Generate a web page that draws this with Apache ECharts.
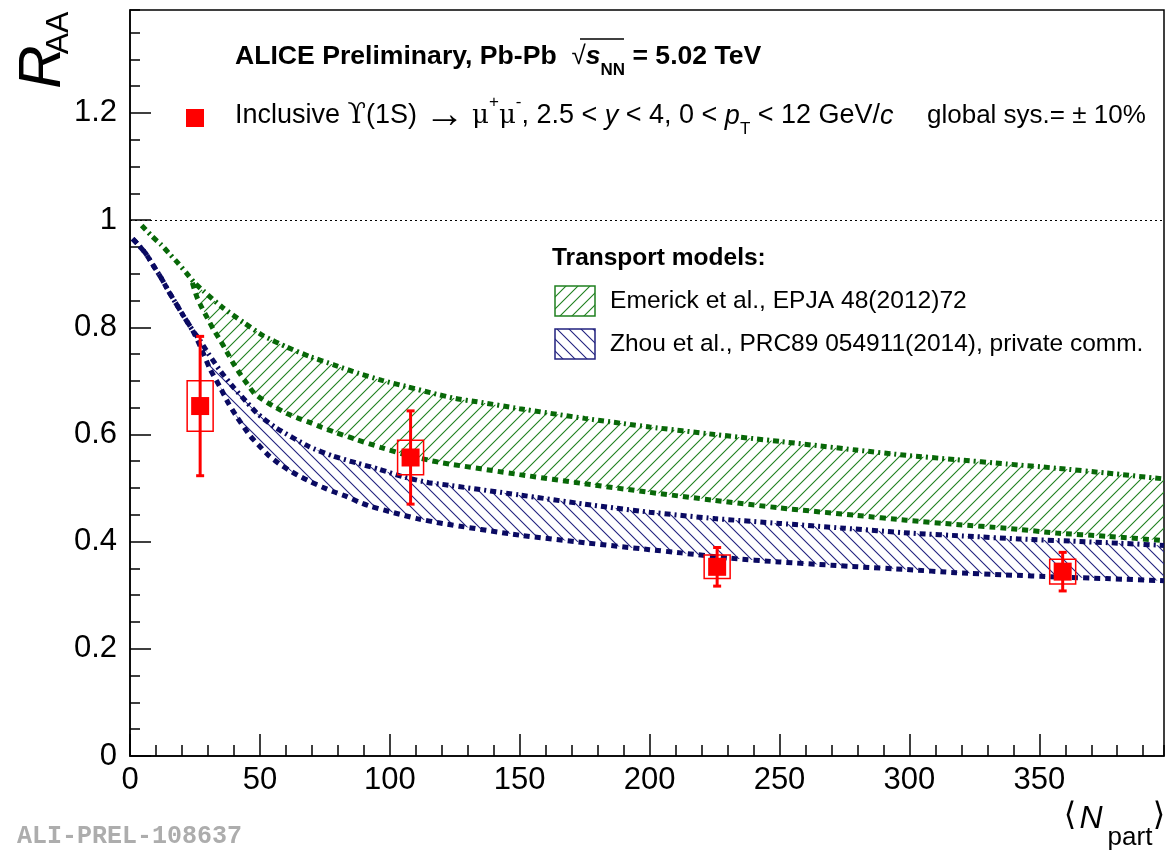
<!DOCTYPE html>
<html>
<head>
<meta charset="utf-8">
<script src="https://cdn.jsdelivr.net/npm/echarts@6/dist/echarts.min.js"></script>
<style>
  html, body { margin: 0; padding: 0; background: #fff; }
  #main { width: 1165px; height: 850px; }
</style>
</head>
<body>
<div id="main"></div>
<script>
// measured Upsilon(1S) R_AA vs <Npart>
var npart   = [27, 108, 226, 359];
var raa     = [0.653, 0.557, 0.353, 0.344];
var statErr = [0.130, 0.087, 0.036, 0.036];
var sysErr  = [0.047, 0.032, 0.022, 0.023];

// Emerick et al. band
var emerickUpN = [4.5, 8.4, 12, 15.4, 18.6, 21.6, 24.8, 28.2, 35.6, 43.7, 51.4, 60.4, 69.4, 78.4, 88, 97, 106.7, 115.6, 125.3, 133.6, 150, 175, 200, 225, 250, 279.5, 298.8, 318, 337.3, 356.6, 375.9, 398];
var emerickUpR = [0.99, 0.970, 0.954, 0.936, 0.919, 0.902, 0.883, 0.868, 0.837, 0.809, 0.784, 0.763, 0.745, 0.730, 0.714, 0.701, 0.689, 0.678, 0.667, 0.661, 0.648, 0.630, 0.614, 0.600, 0.587, 0.571, 0.561, 0.553, 0.545, 0.537, 0.528, 0.517];
var emerickLoN = [24, 25.7, 27.6, 29.8, 32.1, 34.7, 37.3, 39.6, 42.1, 45, 47.8, 52, 56.2, 60.4, 64.9, 69.4, 73.9, 78.4, 87.4, 96.4, 105.4, 115, 120.2, 150, 175, 200, 225, 250, 279.5, 298.8, 318, 337.3, 356.6, 375.9, 398];
var emerickLoR = [0.883, 0.857, 0.837, 0.817, 0.796, 0.776, 0.754, 0.734, 0.715, 0.695, 0.677, 0.662, 0.650, 0.639, 0.630, 0.622, 0.613, 0.605, 0.590, 0.576, 0.563, 0.552, 0.547, 0.525, 0.508, 0.492, 0.477, 0.463, 0.449, 0.440, 0.432, 0.425, 0.416, 0.410, 0.402];

// Zhou et al. band
var zhouUpN = [1, 3, 6, 9, 12, 15, 18, 21, 24, 27, 30, 35, 40, 45, 49, 56, 69, 78, 87, 96, 105, 115, 120, 150, 175, 200, 225, 250, 275, 300, 323, 342, 362, 381, 398];
var zhouUpR = [0.965, 0.955, 0.938, 0.915, 0.892, 0.866, 0.842, 0.818, 0.795, 0.775, 0.752, 0.717, 0.687, 0.660, 0.639, 0.613, 0.577, 0.560, 0.547, 0.535, 0.521, 0.510, 0.507, 0.487, 0.470, 0.455, 0.443, 0.434, 0.425, 0.416, 0.410, 0.405, 0.401, 0.397, 0.393];
var zhouLoN = [1, 3, 6, 9, 12, 15, 18, 21, 24, 27, 30.8, 34.7, 37.9, 41.1, 46.3, 50.1, 53.3, 57.2, 61, 64.9, 69.4, 73.9, 78.4, 83.5, 88, 92.5, 101.5, 110.5, 120.2, 150, 175, 200, 212, 231, 250, 270, 280, 299, 318, 337, 357, 376, 398];
var zhouLoR = [0.965, 0.955, 0.938, 0.915, 0.892, 0.866, 0.842, 0.818, 0.795, 0.765, 0.722, 0.688, 0.658, 0.633, 0.597, 0.577, 0.561, 0.546, 0.534, 0.523, 0.512, 0.502, 0.493, 0.484, 0.474, 0.466, 0.454, 0.443, 0.434, 0.412, 0.398, 0.385, 0.379, 0.369, 0.362, 0.356, 0.353, 0.348, 0.342, 0.338, 0.334, 0.331, 0.327];

var xTicks = [0, 50, 100, 150, 200, 250, 300, 350];
var yTicks = [0, 0.2, 0.4, 0.6, 0.8, 1, 1.2];
var unity = 1;

var RED = '#ff0000';
var GREEN_LINE = '#086808', GREEN_HATCH = '#1f801f';
var BLUE_LINE = '#0a0a62', BLUE_HATCH = '#22227f';
var FONT = "'Liberation Sans', Arial, Helvetica, sans-serif";
var SYMB = "'DejaVu Serif', serif";
var X_MAX = 398, Y_MAX = 1.392;
var BOX_HALF = 5;

function zip(a, b) { return a.map(function (v, i) { return [v, b[i]]; }); }

function hatch(color, forward) {
  var s = 12, c = document.createElement('canvas');
  c.width = s; c.height = s;
  var ctx = c.getContext('2d');
  ctx.strokeStyle = color;
  ctx.lineWidth = 1.1;
  ctx.beginPath();
  if (forward) {
    ctx.moveTo(-2, s + 2); ctx.lineTo(s + 2, -2);
    ctx.moveTo(-2, 2); ctx.lineTo(2, -2);
    ctx.moveTo(s - 2, s + 2); ctx.lineTo(s + 2, s - 2);
  } else {
    ctx.moveTo(-2, -2); ctx.lineTo(s + 2, s + 2);
    ctx.moveTo(s - 2, -2); ctx.lineTo(s + 2, 2);
    ctx.moveTo(-2, s - 2); ctx.lineTo(2, s + 2);
  }
  ctx.stroke();
  return { image: c, repeat: 'repeat' };
}

var greenFill = hatch(GREEN_HATCH, true);
var blueFill = hatch(BLUE_HATCH, false);

function band(upN, upR, loN, loR, fill) {
  var pts = [];
  upN.forEach(function (n, i) { if (n >= loN[0]) pts.push([n, upR[i]]); });
  for (var i = loN.length - 1; i >= 0; i--) pts.push([loN[i], loR[i]]);
  return {
    type: 'custom', silent: true, z: 1, clip: true,
    data: [[0, 0]],
    renderItem: function (params, api) {
      return {
        type: 'polygon',
        shape: { points: pts.map(function (p) { return api.coord(p); }) },
        style: { fill: fill, stroke: 'none' }
      };
    }
  };
}

function curve(n, r, color, dash) {
  return {
    type: 'line', data: zip(n, r), showSymbol: false, smooth: 0.2,
    silent: true, z: 2, clip: true,
    lineStyle: { color: color, width: 5, type: dash, cap: 'butt' }
  };
}

var points = npart.map(function (n, i) { return [n, raa[i], statErr[i], sysErr[i]]; });

var chart = echarts.init(document.getElementById('main'));

var tickStyle = { color: '#000', width: 1.5 };

var option = {
  animation: false,
  backgroundColor: '#fff',
  grid: { left: 130, right: 1, top: 10, bottom: 94, show: true, borderColor: '#000', borderWidth: 1.5, backgroundColor: 'transparent' },
  xAxis: [{
    type: 'value', min: 0, max: X_MAX, interval: 50, position: 'bottom',
    axisLine: { lineStyle: { color: '#000', width: 1.5 } },
    axisTick: { inside: true, length: 22, lineStyle: tickStyle },
    splitLine: { show: false },
    axisLabel: {
      color: '#000', fontFamily: FONT, fontSize: 31, margin: 9, showMaxLabel: false,
      formatter: function (v) { return xTicks.indexOf(v) >= 0 ? String(v) : ''; }
    }
  }, {
    type: 'value', min: 0, max: X_MAX, interval: 10, position: 'bottom',
    axisLine: { show: false }, axisLabel: { show: false }, splitLine: { show: false },
    axisTick: { inside: true, length: 11, lineStyle: tickStyle }
  }],
  yAxis: [{
    type: 'value', min: 0, max: Y_MAX, interval: 0.2, position: 'left',
    axisLine: { lineStyle: { color: '#000', width: 1.5 } },
    axisTick: { inside: true, length: 21, lineStyle: tickStyle },
    splitLine: { show: false },
    axisLabel: {
      color: '#000', fontFamily: FONT, fontSize: 31, margin: 13, showMaxLabel: false,
      formatter: function (v) {
        for (var i = 0; i < yTicks.length; i++) if (Math.abs(yTicks[i] - v) < 1e-6) return String(yTicks[i]);
        return '';
      }
    }
  }, {
    type: 'value', min: 0, max: Y_MAX, interval: 0.05, position: 'left',
    axisLine: { show: false }, axisLabel: { show: false }, splitLine: { show: false },
    axisTick: { inside: true, length: 10, lineStyle: tickStyle }
  }],
  series: [
    band(emerickUpN, emerickUpR, emerickLoN, emerickLoR, greenFill),
    band(zhouUpN, zhouUpR, zhouLoN, zhouLoR, blueFill),
    curve(emerickUpN, emerickUpR, GREEN_LINE, [6, 4, 2, 4]),
    curve(emerickLoN, emerickLoR, GREEN_LINE, [6, 5]),
    curve(zhouUpN, zhouUpR, BLUE_LINE, [6, 4, 2, 4]),
    curve(zhouLoN, zhouLoR, BLUE_LINE, [6, 5]),
    {
      type: 'custom', silent: true, z: 3, data: points,
      renderItem: function (params, api) {
        var x = api.value(0), y = api.value(1), st = api.value(2), sy = api.value(3);
        var top = api.coord([x, y + st]), bot = api.coord([x, y - st]);
        var bl = api.coord([x - BOX_HALF, y - sy]), tr = api.coord([x + BOX_HALF, y + sy]);
        var cap = 4;
        return {
          type: 'group',
          children: [
            { type: 'rect', shape: { x: bl[0], y: tr[1], width: tr[0] - bl[0], height: bl[1] - tr[1] },
              style: { fill: 'none', stroke: RED, lineWidth: 1.5 } },
            { type: 'line', shape: { x1: top[0], y1: top[1], x2: bot[0], y2: bot[1] },
              style: { stroke: RED, lineWidth: 3 } },
            { type: 'line', shape: { x1: top[0] - cap, y1: top[1], x2: top[0] + cap, y2: top[1] },
              style: { stroke: RED, lineWidth: 3 } },
            { type: 'line', shape: { x1: bot[0] - cap, y1: bot[1], x2: bot[0] + cap, y2: bot[1] },
              style: { stroke: RED, lineWidth: 3 } }
          ]
        };
      }
    },
    {
      type: 'scatter', z: 4, silent: true, data: zip(npart, raa),
      symbol: 'rect', symbolSize: 18, itemStyle: { color: RED, opacity: 1 },
      markLine: {
        silent: true, symbol: ['none', 'none'], label: { show: false },
        lineStyle: { color: '#000', width: 1, type: [2, 3] },
        data: [{ yAxis: unity }]
      }
    }
  ],
  graphic: [
    // y axis title
    { type: 'text', x: 43, y: 67, rotation: Math.PI / 2, z: 10,
      style: { text: 'R', fontFamily: FONT, fontSize: 60, fontStyle: 'italic', fill: '#000', align: 'center', verticalAlign: 'middle' } },
    { type: 'text', x: 59, y: 33, rotation: Math.PI / 2, z: 10,
      style: { text: 'AA', fontFamily: FONT, fontSize: 32, fill: '#000', align: 'center', verticalAlign: 'middle' } },
    // x axis title
    { type: 'text', x: 1070, y: 817, z: 10,
      style: { text: '\u27e8', fontFamily: "'DejaVu Sans', sans-serif", fontSize: 32, fill: '#000', align: 'center', verticalAlign: 'middle' } },
    { type: 'text', x: 1091, y: 819, z: 10,
      style: { text: 'N', fontFamily: FONT, fontSize: 32, fontStyle: 'italic', fill: '#000', align: 'center', verticalAlign: 'middle' } },
    { type: 'text', x: 1130, y: 838, z: 10,
      style: { text: 'part', fontFamily: FONT, fontSize: 26, fill: '#000', align: 'center', verticalAlign: 'middle' } },
    { type: 'text', x: 1159, y: 817, z: 10,
      style: { text: '\u27e9', fontFamily: "'DejaVu Sans', sans-serif", fontSize: 32, fill: '#000', align: 'center', verticalAlign: 'middle' } },
    // preliminary id
    { type: 'text', x: 17, y: 837, z: 10,
      style: { text: 'ALI-PREL-108637', fontFamily: "'Liberation Mono', 'DejaVu Sans Mono', monospace", fontSize: 25, fontWeight: 'bold', fill: '#adadad', verticalAlign: 'middle' } },
    // header line 1
    { type: 'text', x: 235, y: 57, z: 10,
      style: { text: '{b|ALICE Preliminary, Pb-Pb  }{r|\u221a}{s|s}{nn|NN}{b| = 5.02 TeV}', verticalAlign: 'middle',
        rich: {
          b: { fontFamily: FONT, fontSize: 26.6, fontWeight: 'bold', lineHeight: 44, verticalAlign: 'middle', fill: '#000' },
          r: { fontFamily: FONT, fontSize: 26, lineHeight: 44, verticalAlign: 'middle', fill: '#000' },
          s: { fontFamily: FONT, fontSize: 26.6, fontWeight: 'bold', fontStyle: 'italic', lineHeight: 44, verticalAlign: 'middle', fill: '#000' },
          nn: { fontFamily: FONT, fontSize: 17, fontWeight: 'bold', verticalAlign: 'bottom', fill: '#000' }
        } } },
    { type: 'line', z: 10, shape: { x1: 580, y1: 39, x2: 624, y2: 39 }, style: { stroke: '#000', lineWidth: 1.5 } },
    // data legend line
    { type: 'rect', z: 10, shape: { x: 186, y: 109, width: 18, height: 18 }, style: { fill: RED } },
    { type: 'text', x: 235, y: 116, z: 10,
      style: { text: '{t|Inclusive }{g|\u03d2}{t|(1S) }{a|\u2192}{t| }{m|\u03bc}{u|+}{m|\u03bc}{u|-}{t|, 2.5 < }{i|y}{t| < 4, 0 < }{i|p}{d|T}{t| < 12 GeV/}{i|c}', verticalAlign: 'middle',
        rich: {
          t: { fontFamily: FONT, fontSize: 27, lineHeight: 44, verticalAlign: 'middle', fill: '#000' },
          i: { fontFamily: FONT, fontSize: 27, fontStyle: 'italic', lineHeight: 44, verticalAlign: 'middle', fill: '#000' },
          g: { fontFamily: SYMB, fontSize: 27, lineHeight: 44, verticalAlign: 'middle', fill: '#000' },
          a: { fontFamily: "'Liberation Serif', 'DejaVu Serif', serif", fontSize: 40, lineHeight: 44, verticalAlign: 'middle', fill: '#000' },
          m: { fontFamily: SYMB, fontSize: 26, lineHeight: 44, verticalAlign: 'middle', fill: '#000' },
          u: { fontFamily: FONT, fontSize: 17, verticalAlign: 'top', fill: '#000' },
          d: { fontFamily: FONT, fontSize: 17, verticalAlign: 'bottom', fill: '#000' }
        } } },
    { type: 'text', x: 927, y: 116, z: 10,
      style: { text: 'global sys.= \u00b1 10%', fontFamily: FONT, fontSize: 26, fill: '#000', verticalAlign: 'middle' } },
    // model legend
    { type: 'text', x: 552, y: 258, z: 10,
      style: { text: 'Transport models:', fontFamily: FONT, fontSize: 24.5, fontWeight: 'bold', fill: '#000', verticalAlign: 'middle' } },
    { type: 'rect', z: 10, shape: { x: 555, y: 286, width: 40, height: 30 }, style: { fill: greenFill, stroke: GREEN_HATCH, lineWidth: 1.5 } },
    { type: 'text', x: 610, y: 301, z: 10,
      style: { text: 'Emerick et al., EPJA 48(2012)72', fontFamily: FONT, fontSize: 24.6, fill: '#000', verticalAlign: 'middle' } },
    { type: 'rect', z: 10, shape: { x: 555, y: 329, width: 40, height: 30 }, style: { fill: blueFill, stroke: BLUE_HATCH, lineWidth: 1.5 } },
    { type: 'text', x: 610, y: 344, z: 10,
      style: { text: 'Zhou et al., PRC89 054911(2014), private comm.', fontFamily: FONT, fontSize: 24.5, fill: '#000', verticalAlign: 'middle' } }
  ]
};

chart.setOption(option);
</script>
</body>
</html>
